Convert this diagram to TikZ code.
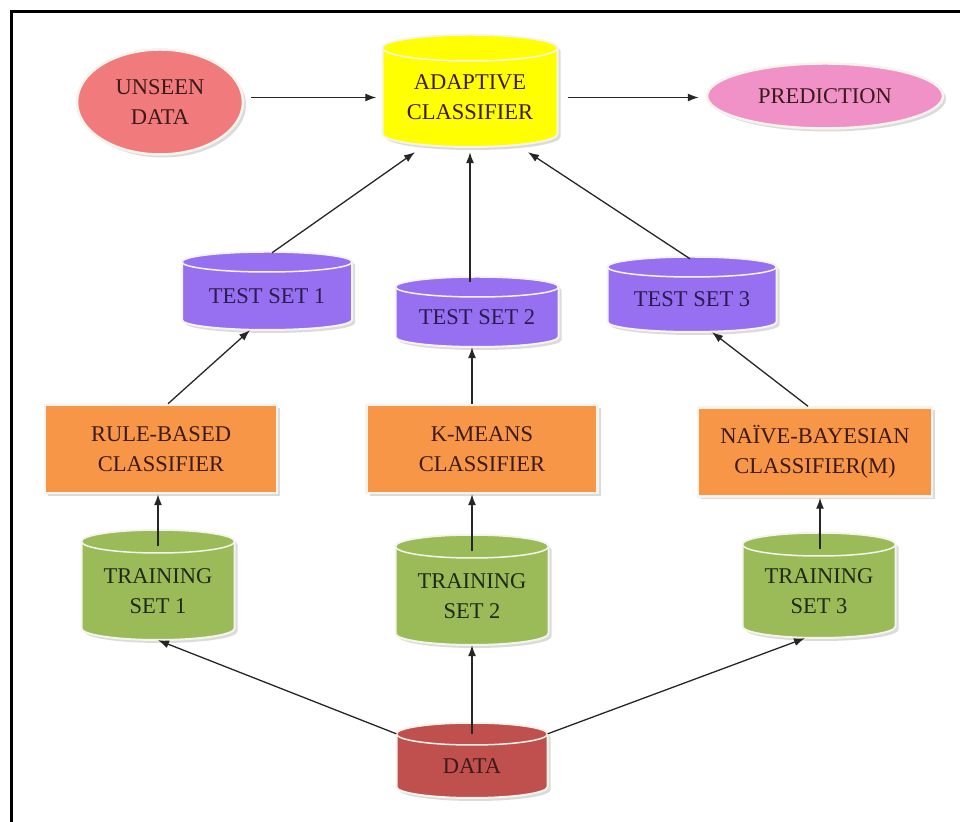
\documentclass[tikz,border=0pt]{standalone}
\usepackage{fontspec}
\setmainfont{Liberation Serif}
\usetikzlibrary{arrows.meta,shapes.geometric,shadows}
\definecolor{cyellow}{HTML}{FFFF00}
\definecolor{cpurple}{HTML}{9670F0}
\definecolor{cgreen}{HTML}{9BBB59}
\definecolor{cred}{HTML}{C0504D}
\definecolor{corange}{HTML}{F79646}
\definecolor{csalmon}{HTML}{F07A7C}
\definecolor{cpink}{HTML}{F092C8}
\definecolor{tmaroon}{HTML}{3D1A1A}
\definecolor{tnavy}{HTML}{2B1B4F}
\definecolor{tgreen}{HTML}{1E2A14}
\definecolor{rim}{HTML}{F4F4EC}
\tikzset{
  txt/.style={font=\fontsize{22.5}{30}\selectfont, align=center, inner sep=0pt},
  cylbody/.style={draw=rim, line width=2pt, drop shadow={shadow xshift=3pt, shadow yshift=-3pt, fill=gray!55}},
  cyltop/.style={draw=rim, line width=1.5pt},
  ovalbox/.style={ellipse, txt, draw=rim, line width=2.5pt, drop shadow={shadow xshift=3pt, shadow yshift=-3pt, fill=gray!55}},
  rectbox/.style={rectangle, txt, fill=corange, text=tmaroon, draw=rim, line width=2.5pt, drop shadow={shadow xshift=3pt, shadow yshift=-3pt, fill=gray!55}},
  conn/.style={draw=black!85, line width=1.3pt, -{Latex[length=11pt,width=8pt]}},
}
% #1 name, #2 cx, #3 cy, #4 w, #5 h, #6 e, #7 fill, #8 text colour, #9 text
\newcommand\cylnode[9]{%
  \pgfmathsetmacro\cL{#2-#4/2}\pgfmathsetmacro\cR{#2+#4/2}%
  \pgfmathsetmacro\cT{#3+#5/2-#6}\pgfmathsetmacro\cB{#3-#5/2+#6}%
  \pgfmathsetmacro\hw{#4/2}%
  \filldraw[cylbody, fill=#7] (\cL,\cT) -- (\cL,\cB)
     arc[start angle=180, end angle=360, x radius=\hw pt, y radius=#6pt]
     -- (\cR,\cT)
     arc[start angle=0, end angle=180, x radius=\hw pt, y radius=#6pt] -- cycle;
  \filldraw[cyltop, fill=#7] (#2,\cT) ellipse[x radius=\hw pt, y radius=#6pt];
  \pgfmathsetmacro\nh{#5-#6}\pgfmathsetmacro\ny{#3-#6/2}%
  \node[txt, text=#8, minimum width=#4pt, minimum height=\nh pt] (#1) at (#2,\ny) {#9};
}
\begin{document}
\begin{tikzpicture}[x=1pt,y=1pt]
\useasboundingbox (0,0) rectangle (960,821);
\fill[white] (0,0) rectangle (960,821);
\draw[line width=3.5pt] (11.5,-10) -- (11.5,809.5) -- (975,809.5);

% top row
\node[ovalbox, fill=csalmon, text=tmaroon, minimum width=166pt, minimum height=105pt] (unseen) at (160,719) {UNSEEN\\DATA};
\cylnode{adaptive}{470}{730}{175}{112}{13}{cyellow}{tmaroon}{ADAPTIVE\\CLASSIFIER}
\node[ovalbox, fill=cpink, text=tmaroon, minimum width=236pt, minimum height=65pt] (prediction) at (825,725) {PREDICTION};

% test sets
\cylnode{test1}{267}{530}{170}{78}{10}{cpurple}{tnavy}{TEST SET 1}
\cylnode{test2}{477}{509}{163}{70}{10}{cpurple}{tnavy}{TEST SET 2}
\cylnode{test3}{692}{526.5}{169}{75}{10}{cpurple}{tnavy}{TEST SET 3}

% classifiers
\node[rectbox, minimum width=232pt, minimum height=88pt] (rule) at (161,372) {RULE-BASED\\CLASSIFIER};
\node[rectbox, minimum width=231pt, minimum height=88pt] (kmeans) at (482,372) {K-MEANS\\CLASSIFIER};
\node[rectbox, minimum width=234pt, minimum height=89pt] (naive) at (815,369) {NAÏVE-BAYESIAN\\CLASSIFIER(M)};

% training sets
\cylnode{train1}{158}{236}{153}{110}{11.5}{cgreen}{tgreen}{TRAINING\\SET 1}
\cylnode{train2}{472}{231}{153}{110}{11.5}{cgreen}{tgreen}{TRAINING\\SET 2}
\cylnode{train3}{819}{235.5}{153}{105}{11.5}{cgreen}{tgreen}{TRAINING\\SET 3}

% data
\cylnode{data}{472}{60.5}{151}{75}{11}{cred}{tmaroon}{DATA}

% connectors
\draw[conn] (data.north west) -- (train1.south);
\draw[conn] (data.north) -- (train2.south);
\draw[conn] (data.north east) -- ([xshift=-14pt]train3.south);

\draw[conn] ([yshift=-5pt]train1.north) -- (train1.north |- rule.south);
\draw[conn] ([yshift=-5pt]train2.north) -- (train2.north |- kmeans.south);
\draw[conn] ([xshift=1pt,yshift=-5pt]train3.north) -- ([xshift=1pt]train3.north |- naive.south);

\draw[conn] ([xshift=7pt]rule.north) -- ([xshift=-17pt]test1.south);
\draw[conn] ([xshift=-5pt]test2.south |- kmeans.north) -- ([xshift=-5pt]test2.south);
\draw[conn] ([xshift=-7pt]naive.north) -- ([xshift=20pt]test3.south);

\draw[conn] ([xshift=5pt,yshift=9pt]test1.north) -- ([xshift=-55pt,yshift=-5pt]adaptive.south);
\draw[conn] ([xshift=-7pt,yshift=5pt]test2.north) -- ([xshift=-7pt,yshift=-5pt]test2.north |- adaptive.south);
\draw[conn] ([xshift=-2pt,yshift=8pt]test3.north) -- ([xshift=58pt,yshift=-5pt]adaptive.south);

\draw[conn] ([xshift=7pt]unseen.east |- adaptive.west) -- ([xshift=-6pt]adaptive.west);
\draw[conn] ([xshift=10pt]adaptive.east) -- ([xshift=-7pt]prediction.west |- adaptive.east);
\end{tikzpicture}
\end{document}
